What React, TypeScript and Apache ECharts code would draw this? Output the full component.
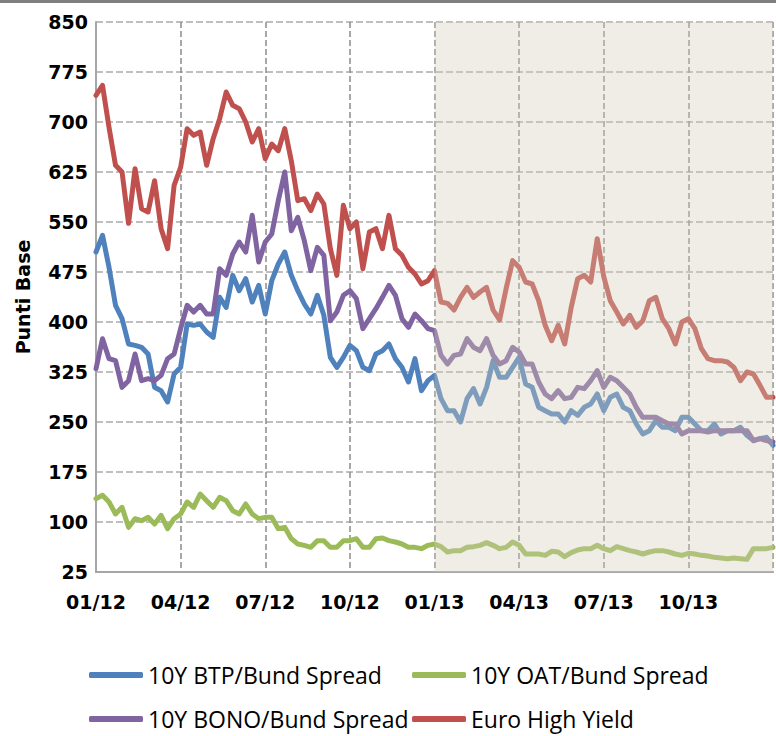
import React, { useEffect, useRef } from 'react';
import * as echarts from 'echarts';

// Quarter tick labels (one every 13 weeks)
const quarterLabels = ['01/12', '04/12', '07/12', '10/12', '01/13', '04/13', '07/13', '10/13'];
const WEEKS_PER_QUARTER = 13;
const LAST_WEEK = 104;
const SHADE_START_WEEK = 52; // 01/13

const yTicks = { min: 25, max: 850, step: 75 };

// Weekly values (basis points), weeks 0..104 (Jan 2012 - Dec 2013)
const btp = [
  505, 530, 482, 425, 405, 367, 365, 362, 352, 302, 297, 280, 322, 332, 397, 395, 397, 385, 377, 437,
  422, 470, 447, 465, 430, 455, 412, 462, 487, 505, 470, 447, 427, 412, 440, 410, 347, 332, 347, 365,
  357, 332, 327, 352, 357, 367, 345, 332, 310, 345, 297, 312, 320, 285, 267, 267, 250, 285, 300, 277,
  302, 342, 317, 317, 332, 347, 307, 302, 272, 267, 262, 262, 250, 267, 260, 272, 277, 292, 267, 287,
  292, 272, 267, 247, 232, 237, 252, 242, 242, 237, 257, 257, 247, 237, 237, 247, 232, 237, 237, 242,
  230, 222, 225, 227, 215,
];

const oat = [
  135, 140, 130, 112, 122, 92, 105, 102, 107, 97, 110, 90, 105, 112, 130, 122, 142, 132, 122, 137,
  132, 117, 112, 127, 112, 105, 107, 107, 90, 92, 75, 67, 65, 62, 72, 72, 62, 62, 72, 72,
  75, 62, 62, 75, 76, 72, 70, 67, 62, 62, 60, 65, 67, 63, 55, 57, 57, 62, 63, 65,
  69, 65, 60, 62, 70, 65, 52, 52, 52, 50, 56, 55, 48, 54, 58, 60, 60, 65, 60, 57,
  63, 60, 57, 55, 52, 55, 57, 57, 55, 52, 50, 53, 52, 50, 49, 47, 46, 45, 46, 45,
  44, 60, 60, 60, 62,
];

const bono = [
  330, 375, 345, 342, 302, 312, 352, 312, 315, 312, 320, 345, 352, 390, 425, 415, 425, 412, 412, 480,
  470, 502, 520, 505, 560, 490, 520, 532, 582, 625, 537, 557, 522, 477, 512, 500, 402, 415, 440, 447,
  435, 390, 405, 420, 437, 455, 440, 405, 392, 412, 402, 390, 387, 350, 337, 350, 352, 375, 362, 357,
  375, 350, 337, 342, 362, 355, 337, 337, 310, 292, 285, 297, 285, 287, 302, 300, 312, 327, 302, 317,
  312, 302, 292, 272, 257, 257, 257, 252, 247, 247, 232, 237, 237, 237, 235, 237, 237, 237, 237, 237,
  237, 222, 225, 222, 220,
];

const euroHY = [
  740, 755, 692, 635, 625, 548, 630, 570, 565, 612, 540, 510, 605, 632, 690, 680, 685, 635, 675, 705,
  745, 725, 720, 700, 670, 690, 645, 667, 657, 690, 642, 582, 585, 567, 592, 577, 510, 470, 575, 540,
  550, 480, 535, 540, 510, 560, 510, 500, 482, 472, 457, 462, 477, 430, 428, 418, 437, 452, 437, 445,
  452, 418, 403, 450, 492, 482, 460, 457, 432, 395, 372, 395, 367, 422, 465, 470, 460, 525, 468, 432,
  415, 397, 410, 392, 402, 432, 437, 405, 390, 367, 400, 405, 390, 360, 345, 342, 342, 340, 332, 312,
  325, 322, 305, 287, 287,
];

const seriesDefs = [
  { name: '10Y BTP/Bund Spread', values: btp, color: '#4F81BD' },
  { name: '10Y OAT/Bund Spread', values: oat, color: '#9BBB59' },
  { name: '10Y BONO/Bund Spread', values: bono, color: '#8064A2' },
  { name: 'Euro High Yield', values: euroHY, color: '#C0504D' },
];

export default function App() {
  const ref = useRef<HTMLDivElement>(null);

  useEffect(() => {
    if (!ref.current) return;
    const chart = echarts.init(ref.current, null, { renderer: 'svg' });
    const toPairs = (arr: number[]) => arr.map((v, i) => [i, v]);

    const legendAt = (name: string, left: number, top: number) => ({
      show: true,
      orient: 'horizontal',
      left,
      top,
      padding: 0,
      itemWidth: 54,
      itemHeight: 6,
      icon: 'roundRect',
      selectedMode: false,
      data: [name],
      textStyle: { fontFamily: 'Open Sans', fontSize: 23, color: '#000', lineHeight: 26 },
    });

    chart.setOption({
      animation: false,
      backgroundColor: '#ffffff',
      graphic: [
        {
          type: 'rect',
          left: 0,
          top: 0,
          shape: { width: 776, height: 3 },
          style: { fill: '#7F7F7F' },
          silent: true,
        },
      ],
      grid: { left: 96, right: 0, top: 22, bottom: 164, containLabel: false },
      legend: [
        legendAt(seriesDefs[0].name, 89, 662),
        legendAt(seriesDefs[1].name, 412, 662),
        legendAt(seriesDefs[2].name, 89, 706),
        legendAt(seriesDefs[3].name, 412, 706),
      ],
      xAxis: {
        type: 'value',
        min: 0,
        max: LAST_WEEK,
        interval: WEEKS_PER_QUARTER,
        axisLine: { show: true, lineStyle: { color: '#A6A6A6', width: 2 } },
        axisTick: { show: false },
        splitLine: { show: true, lineStyle: { color: '#8C8C8C', type: [6, 3], width: 1.5 } },
        axisLabel: {
          formatter: (v: number) => quarterLabels[Math.round(v / WEEKS_PER_QUARTER)] ?? '',
          fontFamily: 'DejaVu Sans',
          fontWeight: 'bold',
          fontSize: 19,
          color: '#000',
          margin: 20,
        },
      },
      yAxis: {
        type: 'value',
        min: yTicks.min,
        max: yTicks.max,
        interval: yTicks.step,
        name: 'Punti Base',
        nameLocation: 'middle',
        nameGap: 64,
        nameRotate: 90,
        nameTextStyle: { fontFamily: 'DejaVu Sans', fontWeight: 'bold', fontSize: 19, color: '#000' },
        axisLine: { show: true, lineStyle: { color: '#A6A6A6', width: 2 } },
        axisTick: { show: false },
        axisLabel: {
          fontFamily: 'DejaVu Sans',
          fontWeight: 'bold',
          fontSize: 19,
          color: '#000',
          margin: 8,
        },
        splitLine: { show: true, lineStyle: { color: '#ABABAB', type: [7, 3], width: 1.5 } },
      },
      series: [
        ...seriesDefs.map((s) => ({
          name: s.name,
          type: 'line',
          data: toPairs(s.values),
          symbol: 'none',
          showSymbol: false,
          z: 2,
          lineStyle: { width: 5, color: s.color, join: 'round', cap: 'round' },
          itemStyle: { color: s.color },
        })),
        {
          type: 'custom',
          silent: true,
          z: 5,
          data: [[SHADE_START_WEEK, LAST_WEEK, yTicks.min, yTicks.max]],
          encode: { x: [0, 1], y: [2, 3] },
          renderItem: (_params: any, api: any) => {
            const p0 = api.coord([api.value(0), api.value(3)]);
            const p1 = api.coord([api.value(1), api.value(2)]);
            return {
              type: 'rect',
              shape: { x: p0[0], y: p0[1], width: p1[0] - p0[0], height: p1[1] - p0[1] },
              style: { fill: 'rgba(212,204,184,0.36)' },
            };
          },
        },
      ],
    });

    return () => chart.dispose();
  }, []);

  return (
    <div
      ref={ref}
      style={{ position: 'fixed', left: 0, top: 0, width: 776, height: 736, background: '#fff' }}
    />
  );
}
